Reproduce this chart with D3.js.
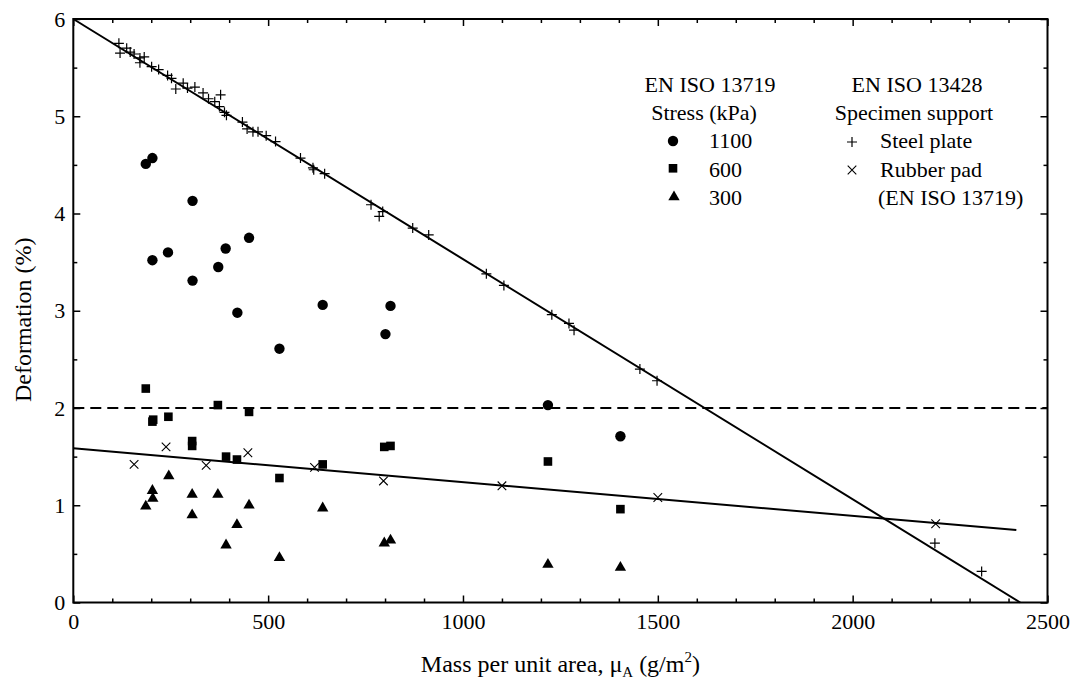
<!DOCTYPE html>
<html>
<head>
<meta charset="utf-8">
<script src="https://cdn.jsdelivr.net/npm/d3@7"></script>
<style>
  body { margin: 0; background: #fff; }
  svg text { font-family: "Liberation Serif", "Tinos", "Noto Serif", "DejaVu Serif", serif; fill: #000; }
</style>
</head>
<body>
<div id="chart-area"></div>
<script>
// values (mass per unit area g/m2, deformation %)
const stress1100 = [[186,4.51],[203,4.57],[306,4.13],[203,3.52],[243,3.60],[391,3.64],[451,3.75],[372,3.45],
  [306,3.31],[421,2.98],[529,2.61],[640,3.06],[814,3.05],[801,2.76],[1218,2.03],[1404,1.71]]
const stress600 = [[186,2.20],[203,1.86],[205,1.88],[244,1.91],[371,2.03],[451,1.96],[305,1.66],[305,1.61],
  [392,1.50],[420,1.47],[529,1.28],[640,1.42],[798,1.60],[814,1.61],[1218,1.45],[1404,0.96]]
const stress300 = [[186,0.99],[203,1.15],[204,1.07],[245,1.30],[305,1.11],[305,0.90],[371,1.11],[392,0.59],
  [420,0.80],[451,1.00],[529,0.46],[640,0.97],[798,0.61],[814,0.64],[1218,0.39],[1404,0.36]]
const rubberPad = [[156,1.42],[238,1.60],[341,1.41],[448,1.54],[619,1.39],[796,1.25],[1100,1.20],[1500,1.08],[2213,0.81]]
const steelPlate = [[117,5.75],[120,5.65],[137,5.70],[146,5.66],[156,5.64],[171,5.60],[182,5.61],[171,5.55],
  [201,5.51],[219,5.48],[242,5.42],[252,5.39],[263,5.28],[282,5.34],[293,5.29],[312,5.30],[333,5.24],
  [347,5.18],[363,5.15],[378,5.22],[375,5.10],[393,5.01],[388,5.04],[434,4.94],[446,4.87],[461,4.84],
  [474,4.84],[495,4.80],[519,4.74],[583,4.57],[615,4.47],[617,4.45],[645,4.41],[764,4.09],[785,3.97],
  [794,4.02],[871,3.85],[912,3.78],[1060,3.38],[1105,3.26],[1228,2.96],[1272,2.87],[1285,2.80],
  [1454,2.40],[1498,2.28],[2211,0.61],[2331,0.32]]
const steelFit = [[0,6],[2430,0]]
const rubberFit = [[0,1.585],[2420,0.745]]
const limitLine = [[0,2],[2500,2]]
const xMajor = [0,500,1000,1500,2000,2500]
const xMinor = d3.range(0,2501,100).filter(v => v % 500 !== 0)
const yMajor = [0,1,2,3,4,5,6]
const yMinor = [0.5,1.5,2.5,3.5,4.5,5.5]

const MARGIN = { LEFT: 73.3, RIGHT: 23.5, TOP: 19, BOTTOM: 77.5 }
const WIDTH = 1071 - MARGIN.LEFT - MARGIN.RIGHT
const HEIGHT = 680 - MARGIN.TOP - MARGIN.BOTTOM

const svg = d3.select("#chart-area").append("svg")
  .attr("width", 1071)
  .attr("height", 680)

const g = svg.append("g")
  .attr("transform", `translate(${MARGIN.LEFT}, ${MARGIN.TOP})`)

const x = d3.scaleLinear().domain([0, 2500]).range([0, WIDTH])
const y = d3.scaleLinear().domain([0, 6]).range([HEIGHT, 0])

// axes, ticks pointing inward on all four sides
function styleAxis(sel) {
  sel.attr("font-family", null)
  sel.select(".domain").remove()
  sel.selectAll(".tick line").attr("stroke-width", 1.5)
  sel.selectAll("text").attr("font-size", "22px")
}
g.append("g").attr("transform", `translate(0, ${HEIGHT})`)
  .call(d3.axisBottom(x).tickValues(xMajor).tickSize(-7).tickPadding(11).tickFormat(d3.format("d")))
  .call(styleAxis)
g.append("g").attr("transform", `translate(0, ${HEIGHT})`)
  .call(d3.axisBottom(x).tickValues(xMinor).tickSize(-4).tickFormat(""))
  .call(styleAxis)
g.append("g")
  .call(d3.axisTop(x).tickValues(xMajor).tickSize(-7).tickFormat(""))
  .call(styleAxis)
g.append("g")
  .call(d3.axisTop(x).tickValues(xMinor).tickSize(-4).tickFormat(""))
  .call(styleAxis)
g.append("g")
  .call(d3.axisLeft(y).tickValues(yMajor).tickSize(-7).tickPadding(8).tickFormat(d3.format("d")))
  .call(styleAxis)
g.append("g")
  .call(d3.axisLeft(y).tickValues(yMinor).tickSize(-4).tickFormat(""))
  .call(styleAxis)
g.append("g").attr("transform", `translate(${WIDTH}, 0)`)
  .call(d3.axisRight(y).tickValues(yMajor).tickSize(-7).tickFormat(""))
  .call(styleAxis)
g.append("g").attr("transform", `translate(${WIDTH}, 0)`)
  .call(d3.axisRight(y).tickValues(yMinor).tickSize(-4).tickFormat(""))
  .call(styleAxis)

g.append("rect")
  .attr("width", WIDTH)
  .attr("height", HEIGHT)
  .attr("fill", "none")
  .attr("stroke", "#000")
  .attr("stroke-width", 2)

// X label
const xLabel = g.append("text")
  .attr("x", WIDTH / 2)
  .attr("y", HEIGHT + 69)
  .attr("font-size", "24px")
  .attr("text-anchor", "middle")
xLabel.append("tspan").text("Mass per unit area, \u03bc")
xLabel.append("tspan").attr("font-size", "15px").attr("dy", 5).text("A")
xLabel.append("tspan").attr("dy", -5).text(" (g/m")
xLabel.append("tspan").attr("font-size", "15px").attr("dy", -10).text("2")
xLabel.append("tspan").attr("dy", 10).text(")")

// Y label
g.append("text")
  .attr("x", -(HEIGHT / 2) - 9)
  .attr("y", -42)
  .attr("font-size", "24px")
  .attr("text-anchor", "middle")
  .attr("transform", "rotate(-90)")
  .text("Deformation (%)")

// fitted lines
const line = d3.line().x(d => x(d[0])).y(d => y(d[1]))
g.append("path").datum(steelFit).attr("d", line)
  .attr("fill", "none").attr("stroke", "#000").attr("stroke-width", 2)
g.append("path").datum(rubberFit).attr("d", line)
  .attr("fill", "none").attr("stroke", "#000").attr("stroke-width", 2)
g.append("path").datum(limitLine).attr("d", line)
  .attr("fill", "none").attr("stroke", "#000").attr("stroke-width", 1.8)
  .attr("stroke-dasharray", "11,6")

// markers
const plusPath = "M-5,0H5M0,-5V5"
const crossPath = "M-4.3,-4.3L4.3,4.3M-4.3,4.3L4.3,-4.3"
const triPath = d3.symbol().type(d3.symbolTriangle).size(56)()

g.selectAll(".s1100").data(stress1100).enter().append("circle")
  .attr("cx", d => x(d[0])).attr("cy", d => y(d[1])).attr("r", 5.2).attr("fill", "#000")
g.selectAll(".s600").data(stress600).enter().append("rect")
  .attr("x", d => x(d[0]) - 4.3).attr("y", d => y(d[1]) - 4.3)
  .attr("width", 8.6).attr("height", 8.6).attr("fill", "#000")
g.selectAll(".s300").data(stress300).enter().append("path")
  .attr("d", triPath).attr("transform", d => `translate(${x(d[0])}, ${y(d[1])})`).attr("fill", "#000")
g.selectAll(".steel").data(steelPlate).enter().append("path")
  .attr("d", plusPath).attr("transform", d => `translate(${x(d[0])}, ${y(d[1])})`)
  .attr("stroke", "#000").attr("stroke-width", 1.2).attr("fill", "none")
g.selectAll(".rubber").data(rubberPad).enter().append("path")
  .attr("d", crossPath).attr("transform", d => `translate(${x(d[0])}, ${y(d[1])})`)
  .attr("stroke", "#000").attr("stroke-width", 1.1).attr("fill", "none")

// legend
const legend = svg.append("g").attr("font-size", "22px")
legend.append("text").attr("x", 710).attr("y", 92).attr("text-anchor", "middle").text("EN ISO 13719")
legend.append("text").attr("x", 704).attr("y", 120).attr("text-anchor", "middle").text("Stress (kPa)")
legend.append("circle").attr("cx", 673).attr("cy", 141).attr("r", 5.2)
legend.append("text").attr("x", 709).attr("y", 148).text("1100")
legend.append("rect").attr("x", 668.7).attr("y", 164).attr("width", 8.6).attr("height", 8.6)
legend.append("text").attr("x", 709).attr("y", 176.5).text("600")
legend.append("path").attr("d", triPath).attr("transform", "translate(674, 197)")
legend.append("text").attr("x", 709).attr("y", 204.5).text("300")

legend.append("text").attr("x", 917).attr("y", 92).attr("text-anchor", "middle").text("EN ISO 13428")
legend.append("text").attr("x", 914).attr("y", 120).attr("text-anchor", "middle").text("Specimen support")
legend.append("path").attr("d", plusPath).attr("transform", "translate(852, 142)")
  .attr("stroke", "#000").attr("stroke-width", 1.2)
legend.append("text").attr("x", 880).attr("y", 148).text("Steel plate")
legend.append("path").attr("d", crossPath).attr("transform", "translate(852, 170)")
  .attr("stroke", "#000").attr("stroke-width", 1.1)
legend.append("text").attr("x", 880).attr("y", 176.5).text("Rubber pad")
legend.append("text").attr("x", 878).attr("y", 204.5).text("(EN ISO 13719)")
</script>
</body>
</html>
